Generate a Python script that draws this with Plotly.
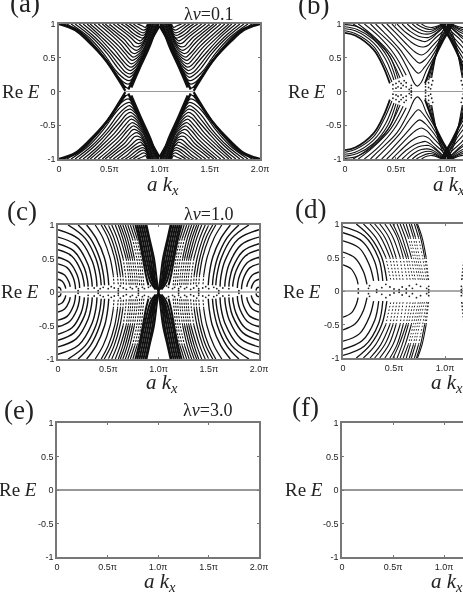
import plotly.graph_objects as go

W = 463
H = 599

# ticks
k_ticks = [0, 0.5, 1.0, 1.5, 2.0]
k_labels = ['0', '0.5π', '1.0π', '1.5π', '2.0π']
e_ticks = [-1, -0.5, 0, 0.5, 1]
e_labels = ['-1', '-0.5', '0', '0.5', '1']

# Upper-left quadrant of each panel as (k/pi, Re E)
a_edges = [
    [(0, 1), (0.16, 0.91), (0.29, 0.74), (0.46, 0.47), (0.59, 0.18), (0.66, 0.01)],
    [(0.02, 1), (0.18, 0.91), (0.31, 0.73), (0.47, 0.46), (0.6, 0.18), (0.66, 0.05)],
    [(0.69, 0.03), (0.79, 0.37), (0.92, 0.76), (1.0, 0.97)],
    [(0.72, 0.06), (0.81, 0.37), (0.91, 0.7), (0.97, 0.98)],
]
a_bands = [
    [(0.04, 1), (0.2, 0.9), (0.33, 0.72), (0.48, 0.45), (0.6, 0.19), (0.66, 0.07), (0.69, 0.05), (0.73, 0.12), (0.8, 0.37), (0.88, 0.64), (1.0, 0.99)],
    [(0.08, 1), (0.26, 0.81), (0.42, 0.55), (0.56, 0.27), (0.64, 0.14), (0.69, 0.11), (0.74, 0.18), (0.8, 0.36), (0.875, 0.62), (0.995, 1)],
    [(0.12, 1), (0.3, 0.8), (0.45, 0.55), (0.57, 0.3), (0.65, 0.19), (0.7, 0.16), (0.75, 0.23), (0.8, 0.37), (0.87, 0.6), (0.99, 1)],
    [(0.16, 1), (0.33, 0.8), (0.48, 0.56), (0.59, 0.34), (0.66, 0.24), (0.7, 0.21), (0.75, 0.27), (0.8, 0.38), (0.87, 0.61), (0.985, 1)],
    [(0.2, 1), (0.36, 0.8), (0.5, 0.58), (0.6, 0.39), (0.66, 0.29), (0.71, 0.26), (0.76, 0.32), (0.81, 0.42), (0.865, 0.59), (0.98, 1)],
    [(0.24, 1), (0.39, 0.81), (0.52, 0.6), (0.62, 0.43), (0.67, 0.34), (0.71, 0.31), (0.76, 0.36), (0.81, 0.46), (0.86, 0.6), (0.97, 1)],
    [(0.28, 1), (0.42, 0.81), (0.55, 0.62), (0.63, 0.47), (0.68, 0.39), (0.72, 0.36), (0.76, 0.4), (0.81, 0.49), (0.855, 0.6), (0.96, 1)],
    [(0.31, 1), (0.45, 0.82), (0.57, 0.65), (0.65, 0.51), (0.69, 0.44), (0.72, 0.41), (0.77, 0.45), (0.81, 0.52), (0.85, 0.61), (0.95, 1)],
    [(0.35, 1), (0.48, 0.83), (0.59, 0.68), (0.66, 0.56), (0.7, 0.49), (0.73, 0.46), (0.77, 0.49), (0.81, 0.55), (0.845, 0.62), (0.94, 1)],
    [(0.39, 1), (0.51, 0.85), (0.61, 0.71), (0.67, 0.6), (0.71, 0.54), (0.74, 0.51), (0.78, 0.54), (0.81, 0.58), (0.84, 0.63), (0.935, 1)],
    [(0.43, 1), (0.54, 0.86), (0.63, 0.74), (0.69, 0.64), (0.72, 0.58), (0.75, 0.56), (0.78, 0.58), (0.81, 0.61), (0.84, 0.67), (0.93, 1)],
    [(0.46, 1), (0.56, 0.88), (0.65, 0.77), (0.7, 0.68), (0.74, 0.63), (0.77, 0.61), (0.8, 0.63), (0.83, 0.68), (0.92, 1)],
    [(0.5, 1), (0.59, 0.89), (0.67, 0.8), (0.72, 0.72), (0.75, 0.67), (0.78, 0.66), (0.81, 0.68), (0.84, 0.72), (0.915, 1)],
    [(0.54, 1), (0.62, 0.91), (0.69, 0.83), (0.74, 0.76), (0.77, 0.72), (0.79, 0.71), (0.82, 0.72), (0.85, 0.77), (0.91, 1)],
    [(0.58, 1), (0.65, 0.92), (0.71, 0.85), (0.76, 0.79), (0.79, 0.76), (0.81, 0.75), (0.83, 0.77), (0.86, 0.82), (0.905, 1)],
    [(0.62, 1), (0.68, 0.94), (0.73, 0.87), (0.78, 0.82), (0.81, 0.8), (0.83, 0.79), (0.85, 0.81), (0.87, 0.86), (0.9, 1)],
    [(0.66, 1), (0.71, 0.95), (0.76, 0.89), (0.8, 0.85), (0.83, 0.83), (0.85, 0.84), (0.87, 0.88), (0.895, 1)],
    [(0.7, 1), (0.75, 0.95), (0.8, 0.89), (0.84, 0.87), (0.87, 0.9), (0.89, 1)],
    [(0.74, 1), (0.79, 0.95), (0.84, 0.91), (0.87, 0.93), (0.885, 1)],
    [(0.78, 1), (0.83, 0.97), (0.86, 0.95), (0.88, 1)],
]
a_zero_k = [0.66, 1.34]
a_zero_e = [0, 0]

b_edges = [
    [(0, 0.87), (0.1, 0.83), (0.28, 0.62), (0.375, 0.37), (0.44, 0.12)],
    [(0.784, 0.12), (0.866, 0.45), (0.964, 0.76), (1.0, 0.85), (1.06, 1)],
]
b_bands = [
    [(0, 0.9), (0.1, 0.86), (0.28, 0.67), (0.38, 0.42), (0.46, 0.14)],
    [(0, 0.93), (0.1, 0.9), (0.28, 0.72), (0.4, 0.47), (0.48, 0.17)],
    [(0, 0.96), (0.12, 0.92), (0.28, 0.77), (0.42, 0.5), (0.5, 0.18)],
    [(0, 0.99), (0.12, 0.96), (0.3, 0.78), (0.44, 0.52), (0.52, 0.19)],
    [(0.08, 1), (0.24, 0.84), (0.42, 0.56), (0.54, 0.2)],
    [(0.13, 1), (0.28, 0.82), (0.45, 0.55), (0.57, 0.22)],
    [(0.19, 1), (0.33, 0.82), (0.48, 0.56), (0.6, 0.24)],
    [(0.25, 1), (0.31, 0.91), (0.51, 0.61), (0.62, 0.32), (0.68, 0.12), (0.71, 0.08), (0.75, 0.14), (0.8, 0.32), (0.87, 0.5), (0.96, 0.77), (1.06, 1)],
    [(0.3, 1), (0.38, 0.88), (0.54, 0.62), (0.65, 0.38), (0.72, 0.27), (0.78, 0.36), (0.85, 0.51), (0.95, 0.76), (1.05, 1)],
    [(0.36, 1), (0.44, 0.88), (0.58, 0.65), (0.68, 0.48), (0.73, 0.42), (0.79, 0.48), (0.86, 0.6), (0.95, 0.8), (1.04, 1)],
    [(0.41, 1), (0.49, 0.88), (0.61, 0.69), (0.7, 0.57), (0.75, 0.54), (0.8, 0.58), (0.86, 0.68), (0.95, 0.83), (1.03, 1)],
    [(0.46, 1), (0.54, 0.88), (0.65, 0.73), (0.72, 0.67), (0.77, 0.66), (0.82, 0.69), (0.87, 0.77), (0.95, 0.88), (1.01, 1)],
    [(0.51, 1), (0.6, 0.87), (0.69, 0.78), (0.75, 0.75), (0.79, 0.74), (0.84, 0.78), (0.9, 0.86), (1.0, 1)],
    [(0.56, 1), (0.64, 0.89), (0.72, 0.82), (0.78, 0.8), (0.82, 0.8), (0.87, 0.84), (0.99, 1)],
    [(0.61, 1), (0.68, 0.91), (0.75, 0.86), (0.81, 0.85), (0.86, 0.87), (0.98, 1)],
    [(0.66, 1), (0.72, 0.93), (0.79, 0.89), (0.84, 0.89), (0.97, 1)],
    [(0.7, 1), (0.76, 0.95), (0.82, 0.92), (0.87, 0.93), (0.96, 1)],
    [(0.75, 1), (0.8, 0.96), (0.86, 0.95), (0.95, 1)],
    [(0.8, 0.15), (0.86, 0.42), (0.94, 0.7), (1.0, 0.87), (1.05, 1)],
    [(0.82, 0.17), (0.87, 0.45), (0.93, 0.7), (1.0, 0.89), (1.04, 1)],
    [(0.84, 0.2), (0.88, 0.48), (0.93, 0.73), (0.98, 0.9), (1.03, 1)],
    [(0.85, 0.2), (0.89, 0.53), (0.92, 0.74), (0.97, 0.92), (1.02, 1)],
]
b_dot_k = [0.47, 0.47, 0.5, 0.5, 0.52, 0.53, 0.55, 0.55, 0.57, 0.58, 0.6, 0.6, 0.63, 0.65, 0.65, 0.65, 0.79, 0.79, 0.79, 0.82, 0.82, 0.84, 0.85, 0.86]
b_dot_e = [0.04, 0.1, 0.05, 0.12, 0.07, 0.15, 0.05, 0.12, 0.09, 0.16, 0.07, 0.13, 0.03, 0.01, 0.05, 0.09, 0.02, 0.07, 0.11, 0.06, 0.13, 0.04, 0.1, 0.16]
b_zero_k = [0.47, 1.53]
b_zero_e = [0, 0]

c_arcs_solid = [
    [(0, 0.07), (0.02, 0.06), (0.03, 0.02)],
    [(0, 0.19), (0.042, 0.16), (0.069, 0.095), (0.077, 0.05)],
    [(0, 0.3), (0.066, 0.255), (0.109, 0.15), (0.122, 0.075)],
    [(0, 0.42), (0.093, 0.36), (0.153, 0.21), (0.171, 0.1), (0.174, 0.04)],
    [(0, 0.52), (0.115, 0.44), (0.189, 0.26), (0.212, 0.13), (0.215, 0.06)],
    [(0, 0.63), (0.139, 0.535), (0.229, 0.315), (0.256, 0.16), (0.262, 0.08)],
    [(0, 0.72), (0.159, 0.61), (0.262, 0.36), (0.293, 0.18), (0.3, 0.08)],
    [(0, 0.82), (0.181, 0.7), (0.298, 0.41), (0.333, 0.2), (0.341, 0.08)],
    [(0, 0.93), (0.206, 0.79), (0.339, 0.465), (0.379, 0.23), (0.388, 0.08)],
    [(0.1, 1), (0.271, 0.8), (0.377, 0.5), (0.419, 0.25), (0.43, 0.1)],
    [(0.2, 1), (0.322, 0.8), (0.415, 0.5), (0.453, 0.25), (0.463, 0.1)],
    [(0.285, 1), (0.38, 0.8), (0.464, 0.5), (0.496, 0.25), (0.505, 0.1)],
]
c_arcs_fading = [
    [(0.37, 1), (0.449, 0.8), (0.519, 0.5), (0.55, 0.25), (0.558, 0.1)],
    [(0.43, 1), (0.5, 0.8), (0.564, 0.5), (0.592, 0.25), (0.6, 0.1)],
    [(0.46, 1), (0.53, 0.8), (0.59, 0.5), (0.62, 0.25), (0.628, 0.1)],
    [(0.5, 1), (0.559, 0.8), (0.617, 0.5), (0.645, 0.25), (0.652, 0.1)],
    [(0.535, 1), (0.59, 0.8), (0.648, 0.5), (0.672, 0.25), (0.68, 0.1)],
    [(0.57, 1), (0.62, 0.8), (0.678, 0.5), (0.7, 0.25), (0.708, 0.1)],
    [(0.6, 1), (0.645, 0.8), (0.698, 0.5), (0.72, 0.25), (0.728, 0.1)],
    [(0.62, 1), (0.668, 0.8), (0.718, 0.5), (0.74, 0.25), (0.748, 0.1)],
    [(0.645, 1), (0.69, 0.8), (0.74, 0.5), (0.762, 0.25), (0.77, 0.1)],
    [(0.67, 1), (0.714, 0.8), (0.76, 0.5), (0.783, 0.25), (0.79, 0.1)],
    [(0.695, 1), (0.74, 0.8), (0.784, 0.5), (0.805, 0.25), (0.812, 0.1)],
    [(0.72, 1), (0.764, 0.8), (0.806, 0.5), (0.825, 0.25), (0.834, 0.1)],
    [(0.745, 1), (0.786, 0.8), (0.826, 0.5), (0.845, 0.25), (0.854, 0.1)],
]
c_fade_from = [0.25, 0.25, 0.25, 0.25, 0.5, 0.5, 0.5, 0.5, 0.5, 0.5, 0.8, 0.8, 0.8]
c_bands = [
    [(0.77, 1), (0.805, 0.8), (0.845, 0.5), (0.875, 0.25), (0.9, 0.1)],
    [(0.79, 1), (0.82, 0.8), (0.86, 0.5), (0.92, 0.15), (0.97, 0.04)],
    [(0.81, 1), (0.84, 0.8), (0.88, 0.5), (0.94, 0.15), (0.98, 0.04)],
    [(0.83, 1), (0.86, 0.8), (0.9, 0.5), (0.95, 0.15), (0.985, 0.04)],
    [(0.85, 1), (0.88, 0.8), (0.92, 0.5), (0.96, 0.15), (0.99, 0.04)],
    [(0.87, 1), (0.9, 0.8), (0.94, 0.5), (0.97, 0.15), (1.0, 0.02)],
    [(0.88, 1), (0.91, 0.8), (0.955, 0.5), (0.985, 0.15), (1.0, 0)],
]
c_dot_k = [0.2, 0.4, 0.6, 0.8, 0.3, 0.36, 0.42, 0.45, 0.5, 0.53, 0.56, 0.6, 0.62, 0.65, 0.68, 0.72, 0.74, 0.78, 0.8, 0.84, 0.86, 0.9, 0.92]
c_dot_e = [0.02, 0.02, 0.02, 0.02, 0.05, 0.06, 0.05, 0.07, 0.05, 0.08, 0.06, 0.05, 0.09, 0.06, 0.04, 0.07, 0.05, 0.08, 0.05, 0.07, 0.05, 0.07, 0.09]
c_zero_k = [0, 2]
c_zero_e = [0, 0]

d_arcs_solid = [
    [(0, 0.39), (0.08, 0.33), (0.13, 0.2), (0.148, 0.1)],
    [(0, 0.58), (0.12, 0.49), (0.2, 0.29), (0.235, 0.1)],
    [(0, 0.75), (0.16, 0.64), (0.26, 0.38), (0.3, 0.15)],
    [(0, 0.87), (0.19, 0.74), (0.31, 0.44), (0.35, 0.15)],
    [(0, 0.96), (0.21, 0.82), (0.35, 0.48), (0.39, 0.15)],
    [(0.13, 1), (0.27, 0.8), (0.38, 0.5), (0.43, 0.15)],
]
d_arcs_fading = [
    [(0.2, 1), (0.32, 0.8), (0.42, 0.5), (0.47, 0.15)],
    [(0.265, 1), (0.37, 0.8), (0.46, 0.5), (0.5, 0.15)],
    [(0.31, 1), (0.41, 0.8), (0.49, 0.5), (0.53, 0.15)],
    [(0.36, 1), (0.45, 0.8), (0.52, 0.5), (0.56, 0.15)],
    [(0.41, 1), (0.49, 0.8), (0.56, 0.5), (0.59, 0.15)],
    [(0.46, 1), (0.53, 0.8), (0.59, 0.5), (0.63, 0.15)],
    [(0.49, 1), (0.55, 0.8), (0.62, 0.5), (0.66, 0.15)],
    [(0.53, 1), (0.58, 0.8), (0.64, 0.5), (0.69, 0.15)],
    [(0.56, 1), (0.61, 0.8), (0.67, 0.5), (0.71, 0.15)],
    [(0.59, 1), (0.64, 0.8), (0.69, 0.5), (0.74, 0.15)],
    [(0.62, 1), (0.66, 0.8), (0.71, 0.5), (0.76, 0.15)],
    [(0.65, 1), (0.69, 0.8), (0.73, 0.5), (0.78, 0.15)],
    [(0.67, 1), (0.71, 0.8), (0.75, 0.5), (0.8, 0.15)],
    [(0.7, 1), (0.74, 0.8), (0.78, 0.5), (0.82, 0.15)],
    [(0.72, 1), (0.76, 0.8), (0.8, 0.5), (0.835, 0.15)],
    [(0.73, 1), (0.775, 0.8), (0.815, 0.5), (0.84, 0.15)],
]
d_fade_from = [0.5, 0.5, 0.5, 0.5, 0.5, 0.5, 0.5, 0.5, 0.5, 0.8, 0.8, 0.8, 0.8, 0.8, 0.5, 0.5]
d_dot_k = [0.15, 0.25, 0.26, 0.33, 0.38, 0.42, 0.46, 0.5, 0.55, 0.58, 0.62, 0.65, 0.68, 0.72, 0.76, 0.82, 0.84, 0.84]
d_dot_e = [0.03, 0.04, 0.08, 0.02, 0.05, 0.1, 0.06, 0.03, 0.02, 0.06, 0.03, 0.08, 0.04, 0.1, 0.07, 0.04, 0.02, 0.07]
d_zero_k = [0, 2]
d_zero_e = [0, 0]

flat_k = [0, 2]
flat_e = [0, 0]

panel_labels = ['(a)', '(b)', '(c)', '(d)', '(e)', '(f)']
lambda_labels = ['λ<i>v</i>=0.1', 'λ<i>v</i>=1.0', 'λ<i>v</i>=3.0']

fig = go.Figure()


# The bands repeat under k -> 2-k and E -> -E, so only one quadrant is listed
def four_quadrants(curves):
    xs, ys = [], []
    for flip_k in (False, True):
        for sign in (1, -1):
            for curve in curves:
                xs += [2 - p[0] if flip_k else p[0] for p in curve] + [None]
                ys += [sign * p[1] for p in curve] + [None]
    return xs, ys


def add_curves(curves, axis, width=1.0, color='#111', dash='solid'):
    xs, ys = four_quadrants(curves)
    fig.add_trace(go.Scatter(x=xs, y=ys, mode='lines', xaxis='x' + axis, yaxis='y' + axis,
                             line=dict(color=color, width=width, shape='spline', smoothing=1.0, dash=dash),
                             hoverinfo='skip', showlegend=False))


# Arcs break up into separate dots towards E = 0: solid above the split, dashed below it
def add_fading(curves, splits, axis, width, dash):
    add_curves([[p for p in c if p[1] >= s] for c, s in zip(curves, splits)], axis, width)
    add_curves([[p for p in c if p[1] <= s] for c, s in zip(curves, splits)], axis, width * 0.9, dash=dash)


def add_dots(ks, es, axis):
    curve = [list(zip(ks, es))]
    xs, ys = four_quadrants(curve)
    keep = [(x, y) for x, y in zip(xs, ys) if x is not None]
    fig.add_trace(go.Scatter(x=[p[0] for p in keep], y=[p[1] for p in keep], mode='markers',
                             xaxis='x' + axis, yaxis='y' + axis,
                             marker=dict(color='#222', size=1.8), hoverinfo='skip', showlegend=False))


def add_zero(ks, es, axis, color, width):
    fig.add_trace(go.Scatter(x=ks, y=es, mode='lines', xaxis='x' + axis, yaxis='y' + axis,
                             line=dict(color=color, width=width), hoverinfo='skip', showlegend=False))


add_zero(a_zero_k, a_zero_e, '1', '#999', 1.2)
add_curves(a_edges, '1', 2.2)
add_curves(a_bands, '1', 1.25)

add_zero(b_zero_k, b_zero_e, '2', '#999', 1.2)
add_curves(b_edges, '2', 1.8)
add_curves(b_bands, '2', 1.1)
add_dots(b_dot_k, b_dot_e, '2')

add_zero(c_zero_k, c_zero_e, '3', '#aaa', 1.6)
add_curves(c_arcs_solid, '3', 1.4)
add_fading(c_arcs_fading, c_fade_from, '3', 1.2, '2px,1.5px')
add_curves(c_bands, '3', 2.0)
add_dots(c_dot_k, c_dot_e, '3')

add_zero(d_zero_k, d_zero_e, '4', '#aaa', 1.8)
add_curves(d_arcs_solid, '4', 1.3)
add_fading(d_arcs_fading, d_fade_from, '4', 1.1, '1.5px,2px')
add_dots(d_dot_k, d_dot_e, '4')

add_zero(flat_k, flat_e, '5', '#333', 1.1)
add_zero(flat_k, flat_e, '6', '#333', 1.1)

# left, right, top, bottom of every frame in page pixels, and the k range shown
frames = {
    '1': (59, 260, 24, 159, 2.0),
    '2': (345, 463, 24, 159, 1.157),
    '3': (58, 259, 225, 359, 2.0),
    '4': (343, 463, 224, 358, 1.176),
    '5': (57, 259, 423, 557, 2.0),
    '6': (342, 463, 423, 557, 1.186),
}
tick_font = dict(family='Liberation Sans', size=9, color='#222')
layout = {}
for key, (left, right, top, bottom, kmax) in frames.items():
    cropped = kmax < 2
    shown = 3 if cropped else 5
    layout['xaxis' + key] = dict(
        domain=[left / W, right / W], range=[0, kmax], anchor='y' + key,
        tickmode='array', tickvals=k_ticks[:shown], ticktext=k_labels[:shown], tickfont=tick_font,
        ticks='inside', ticklen=2, tickcolor='#777', showgrid=False, zeroline=False,
        showline=True, linecolor='#777', linewidth=1.5, mirror='allticks', tickangle=0)
    layout['yaxis' + key] = dict(
        domain=[1 - bottom / H, 1 - top / H], range=[-1, 1], anchor='x' + key,
        tickmode='array', tickvals=e_ticks, ticktext=e_labels, tickfont=tick_font,
        ticks='inside', ticklen=2, tickcolor='#777', showgrid=False, zeroline=False,
        showline=True, linecolor='#777', linewidth=1.5, mirror=False if cropped else 'allticks')
fig.update_layout(**layout)


def note(text, x, y, size, color='#222'):
    fig.add_annotation(text=text, x=x / W, y=1 - y / H, xref='paper', yref='paper',
                       showarrow=False, xanchor='center', yanchor='middle',
                       font=dict(family='Liberation Serif', size=size, color=color))


for text, x, y in zip(panel_labels, [25, 313, 22, 310, 19, 305], [3, 5, 211, 209, 410, 407]):
    note(text, x, y, 27)
for text, x, y in zip(lambda_labels, [208, 208, 207], [14, 214, 410]):
    note(text, x, y, 18)
for x, y in zip([21, 307, 20, 302, 18, 304], [91, 91, 291, 291, 489, 489]):
    note('Re <i>E</i>', x, y, 19)
for x, y in zip([163, 449, 162, 447, 160, 447], [185, 185, 383, 383, 582, 582]):
    note('<i>a k<sub>x</sub></i>', x, y, 21)

fig.update_layout(width=W, height=H, margin=dict(l=0, r=0, t=0, b=0, autoexpand=False),
                  paper_bgcolor='white', plot_bgcolor='white', showlegend=False)

# Page has a default body margin; the scan is also slightly soft
page_fix = ("document.body.style.margin='0';document.body.style.overflow='hidden';"
            "document.getElementById('{plot_id}').style.filter='blur(0.45px)';")
fig.write_html("out.html", post_script=page_fix, config=dict(displayModeBar=False))
